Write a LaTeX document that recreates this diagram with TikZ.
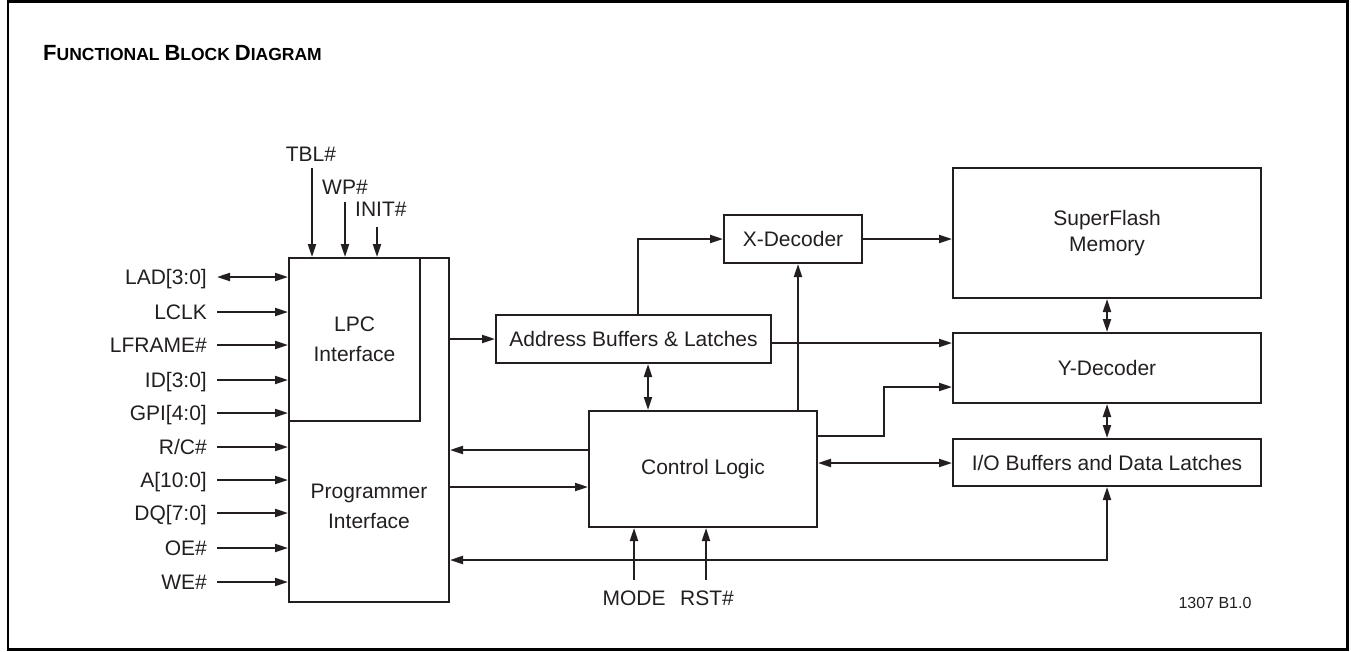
\documentclass[tikz,border=0pt]{standalone}
\usepackage{fontspec}
\setmainfont{Liberation Sans}
\usetikzlibrary{arrows.meta}
\definecolor{ink}{RGB}{35,31,32}
\begin{document}
\begin{tikzpicture}[x=1pt,y=-1pt,
  blk/.style={draw=ink, line width=2pt, inner sep=0pt, text=ink, align=center,
    font=\fontsize{21}{30}\selectfont},
  lbl/.style={inner sep=0pt, text height=15pt, text depth=0pt, text=ink,
    font=\fontsize{21}{26}\selectfont},
  tip/.tip={Triangle[length=13pt,width=8pt]},
  conn/.style={draw=ink, line width=2pt, -tip},
  dconn/.style={draw=ink, line width=2pt, tip-tip},
  plain/.style={draw=ink, line width=2pt}]
\useasboundingbox (0,0) rectangle (1351,651);
\draw[line width=2.5pt] (8,1.5) rectangle (1347.5,649.5);

% title
\node[anchor=base west, inner sep=0pt, font=\bfseries] (title) at (43,60)
  {\fontsize{22}{24}\selectfont F\fontsize{17.5}{24}\selectfont UNCTIONAL
   \fontsize{22}{24}\selectfont B\fontsize{17.5}{24}\selectfont LOCK
   \fontsize{22}{24}\selectfont D\fontsize{17.5}{24}\selectfont IAGRAM};

% blocks
\node[blk, minimum width=160pt, minimum height=344pt] (big) at (369,430) {};
\node[blk, minimum width=131pt, minimum height=163pt] (lpc) at (354.5,339.5) {LPC\\Interface};
\node[align=center, inner sep=0pt, text=ink, font=\fontsize{21}{30}\selectfont] (progtxt) at (369,506) {Programmer\\Interface};
\node[blk, minimum width=275pt, minimum height=48pt] (addr) at (633.5,339) {Address Buffers \& Latches};
\node[blk, minimum width=138pt, minimum height=48pt] (xdec) at (793,239) {X-Decoder};
\node[blk, minimum width=308pt, minimum height=130pt, font=\fontsize{21}{26}\selectfont] (sflash) at (1107,233) {SuperFlash\\Memory};
\node[blk, minimum width=308pt, minimum height=70pt] (ydec) at (1107,368) {Y-Decoder};
\node[blk, minimum width=308pt, minimum height=47pt] (io) at (1107,462.5) {I/O Buffers and Data Latches};
\node[blk, minimum width=228pt, minimum height=116pt] (ctrl) at (703,469) {Control Logic};

% left pins
\node[lbl, anchor=east] (lad) at (207,277) {LAD[3:0]};
\node[lbl, anchor=east] (lclk) at (207,312) {LCLK};
\node[lbl, anchor=east] (lframe) at (207,345) {LFRAME\#};
\node[lbl, anchor=east] (id) at (207,380) {ID[3:0]};
\node[lbl, anchor=east] (gpi) at (207,413) {GPI[4:0]};
\node[lbl, anchor=east] (rc) at (207,447) {R/C\#};
\node[lbl, anchor=east] (a) at (207,480) {A[10:0]};
\node[lbl, anchor=east] (dq) at (207,513) {DQ[7:0]};
\node[lbl, anchor=east] (oe) at (207,548) {OE\#};
\node[lbl, anchor=east] (we) at (207,582) {WE\#};
\draw[dconn] ([xshift=10pt]lad.east) -- (lad.east -| big.west);
\foreach \p in {lclk,lframe,id,gpi,rc,a,dq,oe,we}
  \draw[conn] ([xshift=10pt]\p.east) -- (\p.east -| big.west);

% top pins
\node[lbl, anchor=south] (tbl) at (311,162) {TBL\#};
\node[lbl, anchor=south west] (wp) at (322,195) {WP\#};
\node[lbl, anchor=south west] (init) at (355,217) {INIT\#};
\draw[conn] ([xshift=1pt,yshift=-6pt]tbl.south) coordinate (t1) -- (t1 |- big.north);
\draw[conn] ([xshift=23pt,yshift=-7pt]wp.south west) coordinate (t2) -- (t2 |- big.north);
\draw[conn] ([xshift=22pt,yshift=-10pt]init.south west) coordinate (t3) -- (t3 |- big.north);

% bottom pins
\node[lbl, anchor=north] (mode) at (634,590) {MODE};
\node[lbl, anchor=north] (rst) at (707,590) {RST\#};
\draw[conn] ([yshift=10pt]mode.north) -- (mode.north |- ctrl.south);
\draw[conn] ([xshift=-1pt,yshift=10pt]rst.north) coordinate (r1) -- (r1 |- ctrl.south);

% internal connections
\draw[conn] (addr.west -| big.east) -- (addr.west);
\draw[conn] ([xshift=4.5pt]addr.north) |- (xdec.west);
\draw[conn] (xdec.east) -- (xdec.east -| sflash.west);
\draw[dconn] (sflash.south) -- (ydec.north);
\draw[conn] ([yshift=-4pt]addr.east) coordinate (a1) -- (a1 -| ydec.west);
\draw[conn] ([xshift=95pt]ctrl.north) coordinate (c1) -- (c1 |- xdec.south);
\draw[conn] ([yshift=33pt]ctrl.east) -- ++(66,0) |- ([yshift=-19pt]ydec.west);
\draw[dconn] (ydec.south) -- (io.north);
\draw[dconn] ([yshift=6pt]ctrl.east) coordinate (c2) -- (c2 -| io.west);
\draw[dconn] ([xshift=14.5pt]addr.south) coordinate (a2) -- (a2 |- ctrl.north);
\draw[conn] ([yshift=19pt]ctrl.west) coordinate (c3) -- (c3 -| big.east);
\draw[conn] ([yshift=-18pt]ctrl.west -| big.east) -- ([yshift=-18pt]ctrl.west);
\coordinate (bus) at (1107,560);
\draw[dconn] (io.south) -- (bus) -- (bus -| big.east);

% figure code
\node[inner sep=0pt, text=ink, font=\fontsize{16}{18}\selectfont] (code) at (1215,603) {1307 B1.0};
\end{tikzpicture}
\end{document}
